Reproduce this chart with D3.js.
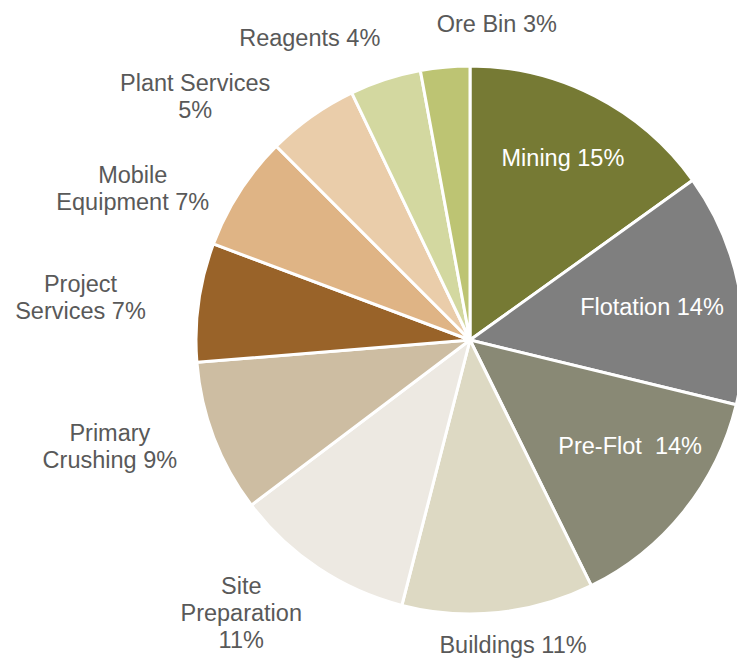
<!DOCTYPE html>
<html>
<head>
<meta charset="utf-8">
<script src="https://cdn.jsdelivr.net/npm/d3@7"></script>
<style>
  html, body { margin: 0; padding: 0; background: #fff; overflow: hidden; }
  svg { display: block; }
  text.lbl { white-space: pre; }
</style>
</head>
<body>
<svg id="chart" width="737" height="658"></svg>
<script>
// ---- data ----
const categories = ["Mining", "Flotation", "Pre-Flot ", "Buildings", "Site Preparation", "Primary Crushing",
  "Project Services", "Mobile Equipment", "Plant Services", "Reagents", "Ore Bin"];
const values = [15.1, 13.7, 13.9, 11.3, 10.7, 9.0, 7.0, 6.8, 5.4, 4.2, 2.9];
// how each category label breaks into lines (the percentage is appended to the last line)
const labelLines = [["Mining"], ["Flotation"], ["Pre-Flot "], ["Buildings"], ["Site", "Preparation", ""],
  ["Primary", "Crushing"], ["Project", "Services"], ["Mobile", "Equipment"], ["Plant Services", ""],
  ["Reagents"], ["Ore Bin"]];

// ---- styles / layout ----
const colors = ["#767A34", "#7F7F7F", "#898975", "#DDD9C3", "#EDE9E2", "#CDBDA2",
  "#996329", "#DFB485", "#EACDAA", "#D3D8A0", "#BDC473"];
const insideLabel = [true, true, true, false, false, false, false, false, false, false, false];
// label placement: radius factor and angular shift (degrees) from slice middle
const labelRadius = [0.745, 0.675, 0.70, 1.122, 1.30, 1.37, 1.43, 1.35, 1.34, 1.25, 1.16];
const labelShift = [-0.1, 0.7, -5.3, -2.1, 6.3, 4.5, -1.7, -8.5, -13.2, -9.9, 10.05];

const cx = 470, cy = 340, R = 274;
const fontSize = 23.5, lineH = 27;

const svg = d3.select("#chart");
const g = svg.append("g").attr("transform", `translate(${cx},${cy})`);

const total = d3.sum(values);
const data = categories.map((c, i) => ({ name: c, value: values[i], i }));
const pie = d3.pie().value(d => d.value).sort(null);
const arcs = pie(data);
const arc = d3.arc().innerRadius(0).outerRadius(R);

g.selectAll("path.slice")
  .data(arcs)
  .join("path")
  .attr("class", "slice")
  .attr("d", arc)
  .attr("fill", d => colors[d.data.i])
  .attr("stroke", "#fff")
  .attr("stroke-width", 3)
  .attr("stroke-linejoin", "round");

g.selectAll("text.lbl")
  .data(arcs)
  .join("text")
  .attr("class", "lbl")
  .attr("xml:space", "preserve")
  .attr("font-family", "'Liberation Sans', Arial, sans-serif")
  .attr("font-size", fontSize)
  .attr("text-anchor", "middle")
  .attr("fill", d => insideLabel[d.data.i] ? "#ffffff" : "#595959")
  .each(function (d) {
    const i = d.data.i;
    const mid = (d.startAngle + d.endAngle) / 2 + labelShift[i] * Math.PI / 180;
    const r = R * labelRadius[i];
    const x = Math.sin(mid) * r, y = -Math.cos(mid) * r;
    const pct = Math.round(d.value / total * 100) + "%";
    const lines = labelLines[i].slice();
    const last = lines.length - 1;
    lines[last] = lines[last] === "" ? pct : lines[last] + " " + pct;
    const t = d3.select(this).attr("x", x).attr("y", y);
    lines.forEach((ln, k) => {
      t.append("tspan")
        .attr("x", x)
        .attr("dy", k === 0 ? (-(lines.length - 1) / 2 * lineH + fontSize * 0.35) : lineH)
        .text(ln);
    });
  });
</script>
</body>
</html>
